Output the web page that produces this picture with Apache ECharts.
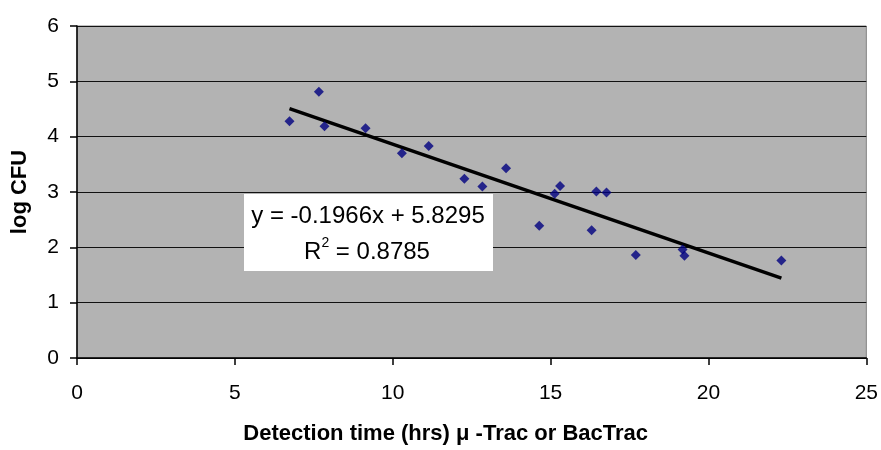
<!DOCTYPE html>
<html><head><meta charset="utf-8">
<script src="https://cdn.jsdelivr.net/npm/echarts@6/dist/echarts.min.js"></script>
<style>html,body{margin:0;padding:0;background:#fff}#c{width:881px;height:450px}</style>
</head><body><div id="c"></div>
<script>
const detectionTime = [6.73,7.66,7.84,9.14,10.29,11.14,12.27,12.84,13.59,14.64,15.13,15.30,16.30,16.45,16.77,17.70,19.18,19.24,22.31];
const logCFU =        [4.28,4.81,4.19,4.15,3.70,3.83,3.24,3.10,3.43,2.39,2.97,3.11,2.31,3.01,2.99,1.86,1.96,1.85,1.76];
const slope = -0.1966, intercept = 5.8295, r2 = 0.8785;
const xTicks = [0,5,10,15,20,25];
const yTicks = [0,1,2,3,4,5,6];

const pts = detectionTime.map((x,i)=>[x,logCFU[i]]);
const xmin = Math.min(...detectionTime), xmax = Math.max(...detectionTime);
const trend = [[xmin, slope*xmin+intercept],[xmax, slope*xmax+intercept]];
const font = 'Liberation Sans, Arial, sans-serif';
const chart = echarts.init(document.getElementById('c'));
chart.setOption({
  backgroundColor:'#fff',
  animation:false,
  grid:{left:77,right:13,top:26,bottom:87,show:true,backgroundColor:'#b3b3b3',borderColor:'#808080',borderWidth:1},
  xAxis:{type:'value',min:xTicks[0],max:xTicks[xTicks.length-1],interval:5,
    name:'Detection time (hrs) μ -Trac or BacTrac',nameLocation:'middle',nameGap:65,
    nameTextStyle:{fontFamily:font,fontWeight:'bold',fontSize:22,color:'#000',padding:[0,52,0,0]},
    axisLine:{lineStyle:{color:'#000',width:1.5}},
    axisTick:{show:true,length:7,lineStyle:{color:'#000',width:1.5}},
    axisLabel:{margin:25,fontFamily:font,fontSize:21,color:'#000'},
    splitLine:{show:false}},
  yAxis:{type:'value',min:yTicks[0],max:yTicks[yTicks.length-1],interval:1,
    name:'log CFU',nameLocation:'middle',nameGap:46,
    nameTextStyle:{fontFamily:font,fontWeight:'bold',fontSize:22,color:'#000'},
    axisLine:{show:true,lineStyle:{color:'#000',width:1.5}},
    axisTick:{show:true,length:7,lineStyle:{color:'#000',width:1.5}},
    axisLabel:{margin:18,fontFamily:font,fontSize:21,color:'#000'},
    splitLine:{show:true,lineStyle:{color:'#111',width:1.2}}},
  series:[
    {type:'line',data:trend,symbol:'none',lineStyle:{color:'#000',width:3.5},z:3},
    {type:'scatter',data:pts,symbol:'diamond',symbolSize:10,itemStyle:{color:'#000080'},z:4}
  ],
  graphic:[
    {type:'rect',left:244,top:194,shape:{width:249,height:77},style:{fill:'#fff'},z:10},
    {type:'text',z:11,style:{x:368,y:216,text:'y = '+slope.toFixed(4)+'x + '+intercept.toFixed(4),
      font:'24px '+font,fill:'#000',align:'center',verticalAlign:'middle'}},
    {type:'text',z:11,style:{x:367,y:250,text:'{a|R}{s|2}{a| = '+r2.toFixed(4)+'}',
      rich:{a:{fontSize:24,fontFamily:font,color:'#000',verticalAlign:'bottom'},s:{fontSize:14,fontFamily:font,color:'#000',verticalAlign:'top',padding:[0,0,14,0]}},
      align:'center',verticalAlign:'middle'}}
  ]
});
</script></body></html>
